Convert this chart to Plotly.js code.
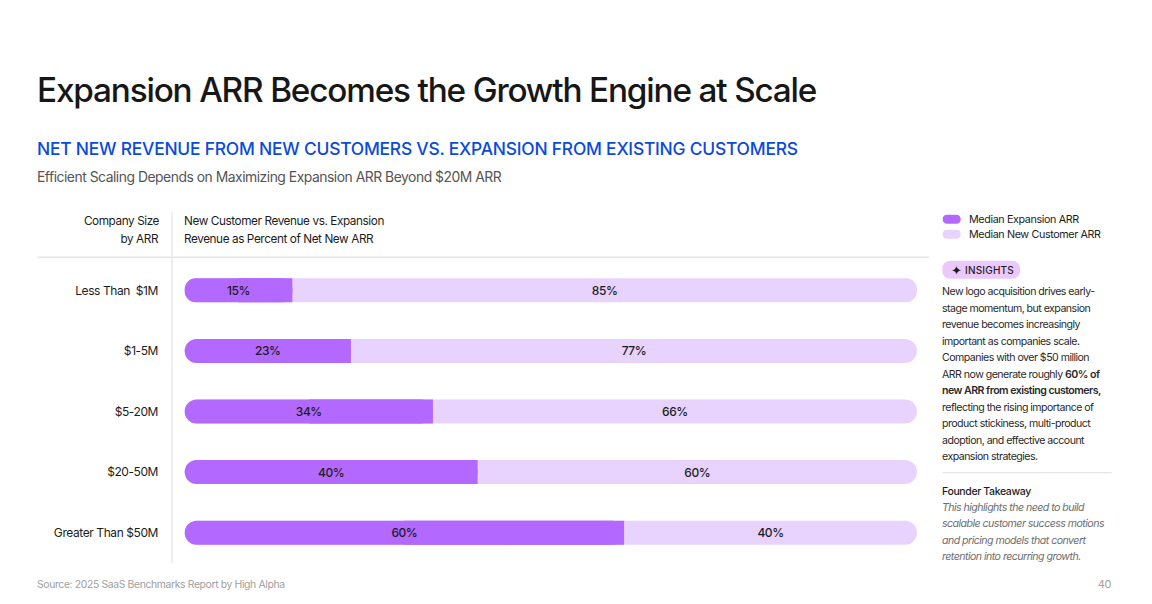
<!DOCTYPE html>
<html><head><meta charset="utf-8">
<script src="https://cdn.plot.ly/plotly-3.0.1.min.js"></script>
<style>html,body{margin:0;padding:0;background:#fff}#c{width:1152px;height:604px}
#c svg text{letter-spacing:-0.035em}</style>
</head><body><div id="c"></div>
<script>
const categories = ["Less Than  $1M","$1-5M","$5-20M","$20-50M","Greater Than $50M"];
const expansion = [14.7,22.7,33.9,40,60];
const newCustomer = [85.3,77.3,66.1,60,40];
const expansionLabels = ["15%","23%","34%","40%","60%"];
const newCustomerLabels = ["85%","77%","66%","60%","40%"];
const legendLabels = ["Median Expansion ARR","Median New Customer ARR"];
const insightLines = ["New logo acquisition drives early-","stage momentum, but expansion","revenue becomes increasingly","important as companies scale.","Companies with over $50 million","ARR now generate roughly <span style=\"font-weight:600\">60% of</span>","<span style=\"font-weight:600\">new ARR from existing customers,</span>","reflecting the rising importance of","product stickiness, multi-product","adoption, and effective account","expansion strategies."];
const insightY = [291.7,308.2,324.7,341.2,357.7,374.2,390.7,407.2,423.7,440.2,456.7];
const takeawayLines = ["This highlights the need to build","scalable customer success motions","and pricing models that convert","retention into recurring growth."];
const takeawayY = [507.2,523.7,540.2,556.7];

const W=1152,H=604,L=171.5,R=916.8,T=259.7,B=562.8;
const X0=184.2;
const FONT="Inter";
const DARK="#b369ff",LIGHT="#e8d3ff",INK="#1c1c1c";
const px=x=>(x-L)/(R-L), py=y=>(B-y)/(B-T);
const ls=(t,em)=>`<span style="letter-spacing:${em}em">${t}</span>`;
function txt(x,y,text,size,color,anchor,weight){
  return {xref:"paper",yref:"paper",x:px(x),y:py(y),text:text,showarrow:false,borderpad:0,
    xanchor:anchor||"left",yanchor:"middle",align:anchor||"left",
    font:{family:FONT,size:size,color:color||INK,weight:weight||400}};
}
function line(x0,y0,x1,y1,c,w){return {type:"line",xref:"paper",yref:"paper",x0:px(x0),x1:px(x1),y0:py(y0),y1:py(y1),line:{color:c,width:w||1},layer:"below"};}
function pill(x0,y0,x1,y1,c){const r=(y1-y0)/2;
  const P=(x,y)=>px(x)+","+py(y);
  return {type:"path",xref:"paper",yref:"paper",layer:"below",fillcolor:c,line:{width:0},
   path:`M${P(x0+r,y0)} L${P(x1-r,y0)} Q${P(x1,y0)} ${P(x1,y0+r)} Q${P(x1,y1)} ${P(x1-r,y1)} L${P(x0+r,y1)} Q${P(x0,y1)} ${P(x0,y0+r)} Q${P(x0,y0)} ${P(x0+r,y0)} Z`};
}
const barBase={type:"bar",orientation:"h",y:categories,hoverinfo:"skip",showlegend:false};
const labelFont={family:FONT,size:12,color:INK,weight:500};
const traces=[
 Object.assign({},barBase,{name:legendLabels[1],base:expansion.map(()=>0),x:expansion.map((v,i)=>v+newCustomer[i]),marker:{color:LIGHT,line:{width:0},cornerradius:12}}),
 Object.assign({},barBase,{base:expansion,x:expansion.map(v=>-v/2),marker:{color:DARK,line:{width:0},cornerradius:0}}),
 Object.assign({},barBase,{name:legendLabels[0],base:expansion,x:expansion.map(v=>-v),marker:{color:DARK,line:{width:0},cornerradius:12},
  text:expansionLabels,textposition:"inside",insidetextanchor:"middle",textangle:0,textfont:labelFont}),
 Object.assign({},barBase,{base:expansion,x:newCustomer,marker:{color:"rgba(0,0,0,0)",line:{width:0},cornerradius:0},
  text:newCustomerLabels,textposition:"inside",insidetextanchor:"middle",textangle:0,textfont:labelFont})
];
const annotations=[
 txt(35,90,"Expansion ARR Becomes the Growth Engine at Scale",33.3,"#171717","left",500),
 txt(35,148.5,ls("NET NEW REVENUE FROM NEW CUSTOMERS VS. EXPANSION FROM EXISTING CUSTOMERS",-0.012),17.4,"#0b4bd8","left",500),
 txt(35,176.5,"Efficient Scaling Depends on Maximizing Expansion ARR Beyond $20M ARR",13.9,"#555555"),
 txt(159,220.5,"Company Size",11.75,INK,"right"),
 txt(159,238.5,"by ARR",11.75,INK,"right"),
 txt(183,220.5,"New Customer Revenue vs. Expansion",11.75,INK),
 txt(183,238.5,"Revenue as Percent of Net New ARR",11.75,INK),
 txt(967.7,219,legendLabels[0],10.75,INK),
 txt(967.7,234,legendLabels[1],10.75,INK),
 txt(949.5,269.5,"✦",13,INK),
 txt(964,269.5,ls("INSIGHTS",0.02),10,INK,"left",500),
 txt(941.3,491,"Founder Takeaway",10.5,INK,"left",500),
 txt(35,584,"Source: 2025 SaaS Benchmarks Report by High Alpha",10.4,"#a0a0a0"),
 txt(1112,584,"40",11,"#a0a0a0","right")
];
insightLines.forEach((t,i)=>annotations.push(txt(941.3,insightY[i],ls(t,-0.05),10.6,"#2a2a2a")));
takeawayLines.forEach((t,i)=>annotations.push(txt(941.3,takeawayY[i],"<i>"+ls(t,-0.05)+"</i>",10.6,"#6d6d6d")));
const shapes=[
 line(171.5,212,171.5,563,"#dedede",1),
 line(37,257,929,257,"#e6e6e6",1.5),
 line(942.5,472.5,1111.5,472.5,"#dedede",1),
 pill(942.5,214.5,960.5,223.5,DARK),
 pill(942.5,229.5,960.5,238.5,LIGHT),
 pill(942,260.5,1020,278.5,"#ecc9fd")
];
const scale=(R-X0)/100;
const layout={width:W,height:H,autosize:false,paper_bgcolor:"#fff",plot_bgcolor:"rgba(0,0,0,0)",
 margin:{l:L,r:W-R,t:T,b:H-B,pad:0},barmode:"overlay",bargap:0.604,showlegend:false,
 xaxis:{range:[-(X0-L)/scale,100],showgrid:false,zeroline:false,showticklabels:false,ticks:"",fixedrange:true},
 yaxis:{type:"category",categoryorder:"array",categoryarray:categories,autorange:"reversed",showgrid:false,zeroline:false,ticks:"",
   ticklabelstandoff:13,tickfont:{family:FONT,size:12,color:INK},showline:false,fixedrange:true},
 annotations:annotations,shapes:shapes,font:{family:FONT}};
Plotly.newPlot("c",traces,layout,{displayModeBar:false,staticPlot:true});
</script></body></html>
